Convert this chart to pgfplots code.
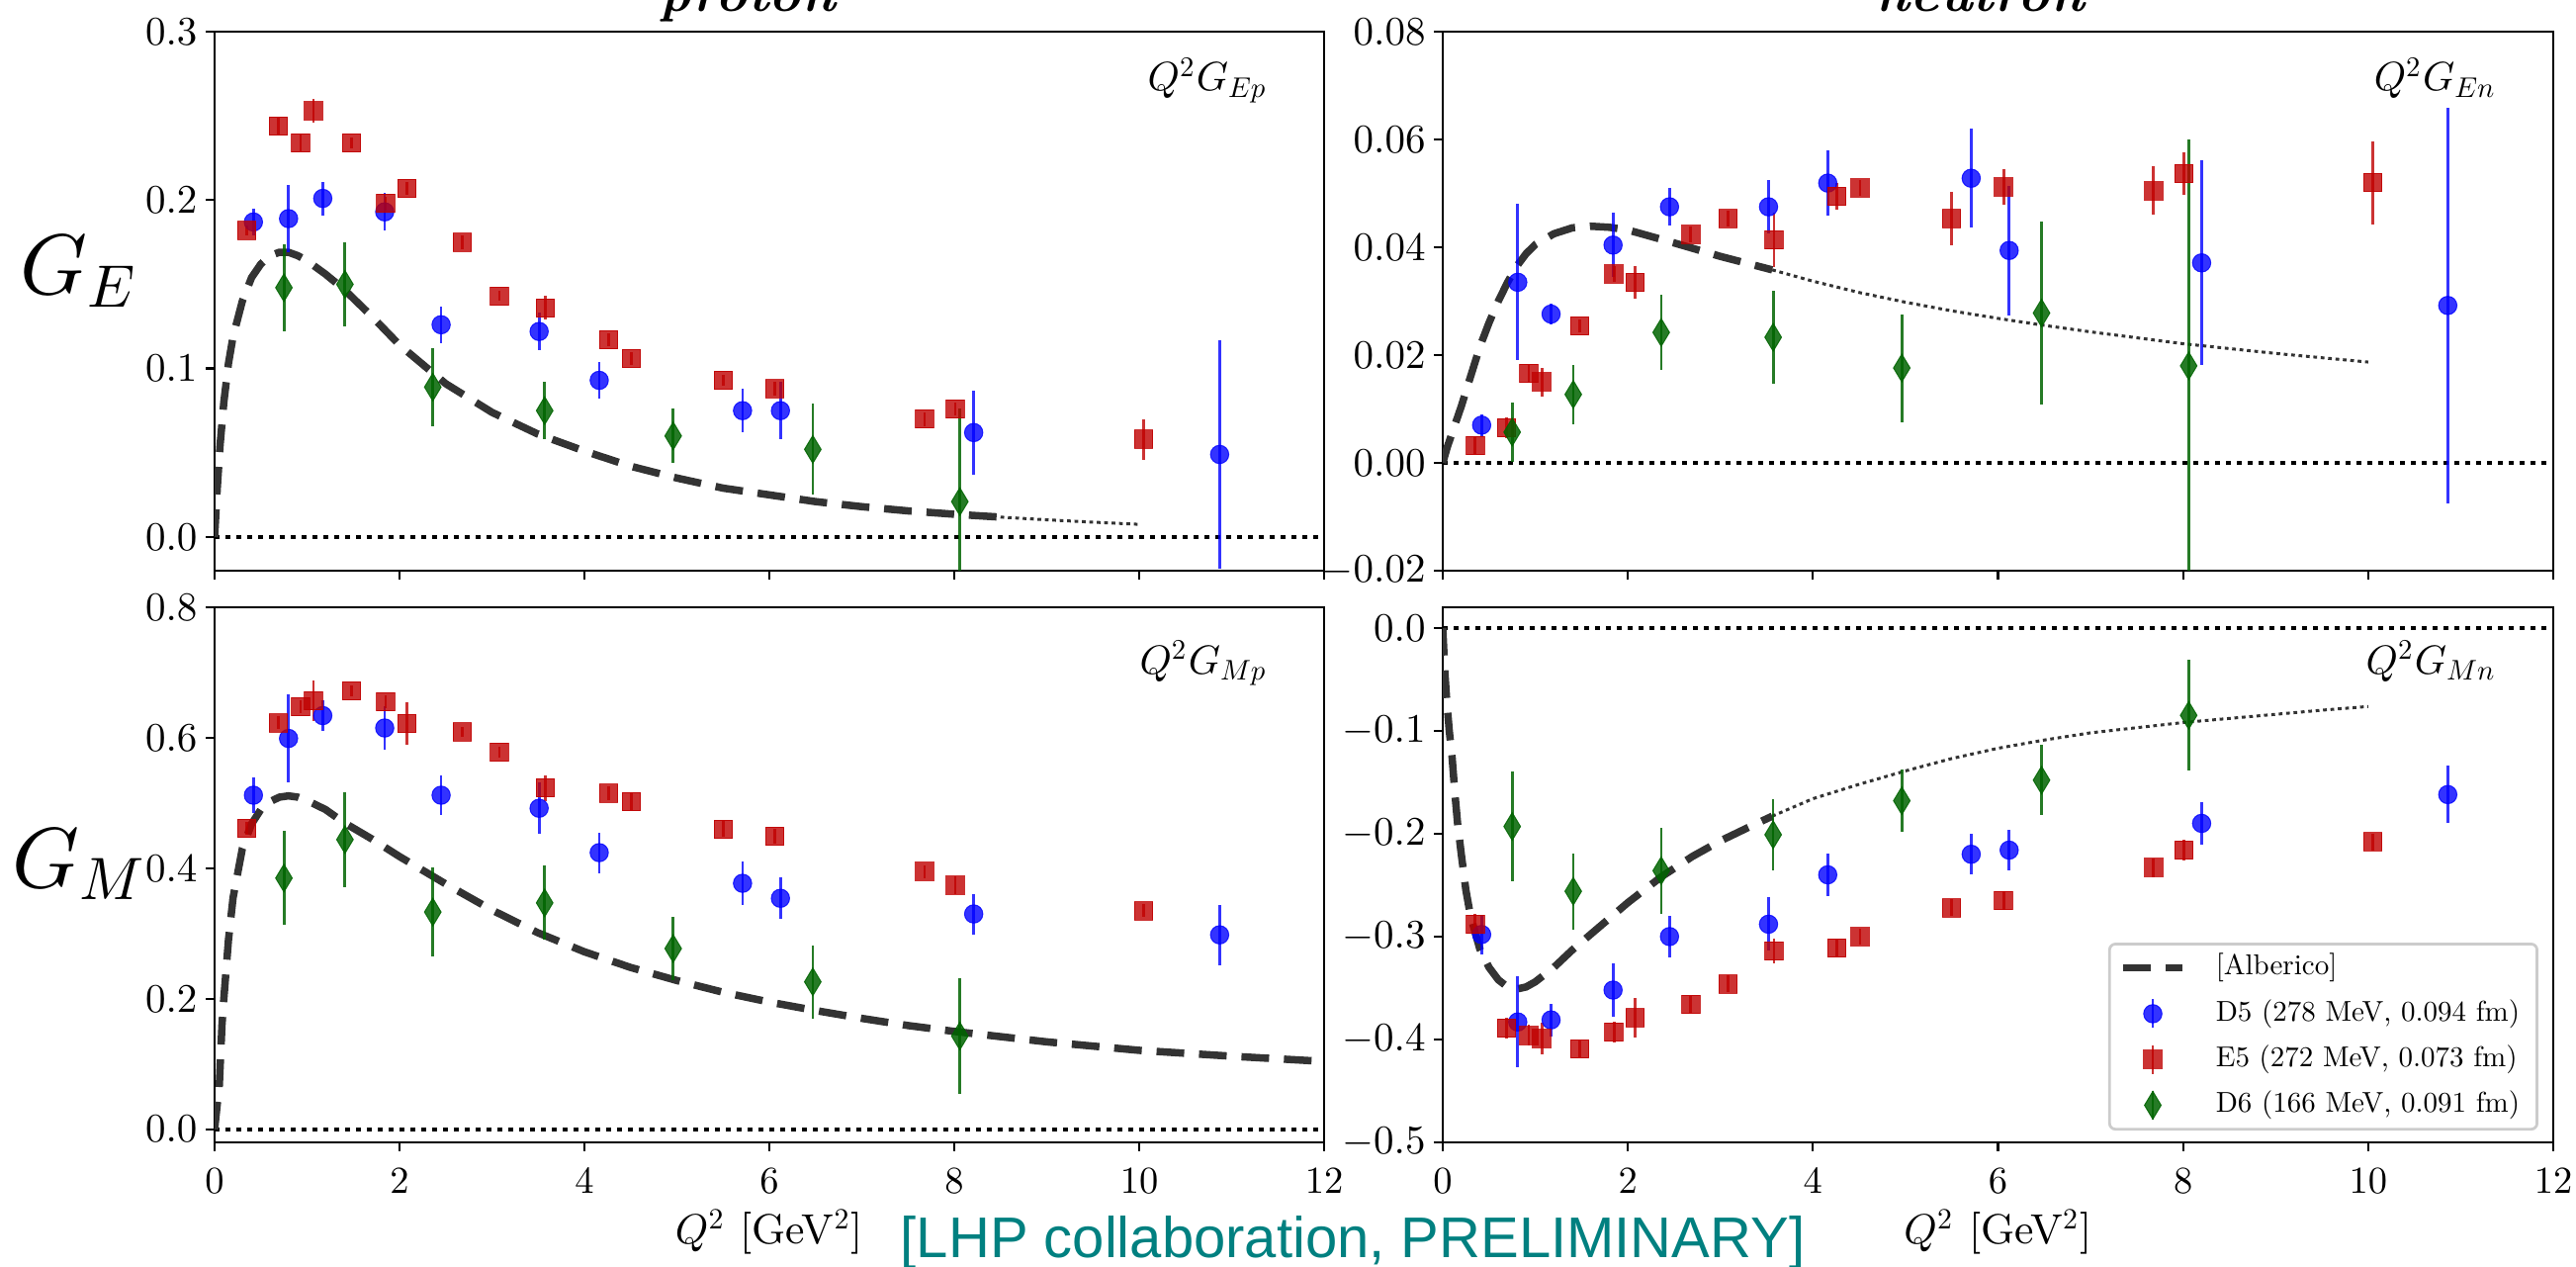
\RequirePackage{fix-cm}
\documentclass[border=0pt]{standalone}
\usepackage{fontspec}
\usepackage{pgfplots}
\pgfplotsset{compat=1.18}
\newfontfamily\lhpfont{Liberation Sans}
\newfontfamily\legendfont{lmroman10-regular.otf}
% one design size for the math fonts at every size
\DeclareFontShape{OT1}{cmr}{m}{n}{<->cmr10}{}
\DeclareFontShape{OML}{cmm}{m}{it}{<->cmmi10}{}
\DeclareFontShape{OMS}{cmsy}{m}{n}{<->cmsy10}{}

\definecolor{d5blue}{RGB}{0,0,255}
\definecolor{e5red}{RGB}{191,0,0}
\definecolor{d6green}{RGB}{0,100,0}
\definecolor{albgray}{RGB}{51,51,51}
\definecolor{lhpteal}{RGB}{0,128,128}

\pgfplotsset{
  panel/.style={
    scale only axis,
    xmin=0, xmax=12,
    xtick={0,2,4,6,8,10,12},
    tick align=outside,
    xtick pos=left, ytick pos=left,
    major tick length=1.8pt,
    axis line style={line width=0.45pt},
    tick style={black, line width=0.45pt},
    xticklabel style={font=\fontsize{7.7}{9}\selectfont},
    yticklabel style={font=\fontsize{8.2}{10}\selectfont, inner xsep=1.5pt},
    scaled y ticks=false,
  },
  prec1/.style={yticklabel style={/pgf/number format/.cd, fixed, fixed zerofill, precision=1}},
  prec2/.style={yticklabel style={/pgf/number format/.cd, fixed, fixed zerofill, precision=2}},
  qlabel/.style={xlabel={$Q^2$ [GeV$^2$]},
    xlabel style={at={(axis description cs:0.5,0)}, anchor=base, yshift=-20.6pt,
      font=\fontsize{8.5}{10}\selectfont}},
  zeroline/.style={black, line width=0.85pt, dash pattern=on 1pt off 1.2pt, forget plot},
  alb/.style={albgray, line width=1.5pt, dash pattern=on 5.6pt off 3pt},
  albtail/.style={albgray, line width=0.6pt, dash pattern=on 0.75pt off 0.75pt, forget plot},
  ebars/.style={
    error bars/y dir=both, error bars/y explicit, error bars/error mark=none,
    error bars/error bar style={line width=0.55pt, opacity=#1}},
  d5/.style={only marks, d5blue, mark=*, mark size=1.85pt,
    mark options={opacity=0.8, line width=0.2pt}, ebars=0.8},
  e5/.style={only marks, e5red, mark=square*, mark size=1.85pt,
    mark options={opacity=0.8, line width=0.2pt}, ebars=0.8},
  d6/.style={only marks, d6green, mark=diamond*, mark size=2.8pt,
    mark options={opacity=0.85, line width=0.2pt, xscale=0.8}, ebars=0.85},
  linelegend/.style={legend image code/.code={\draw[##1] (0pt,0pt) -- (12pt,0pt);}},
  marklegend/.style={legend image code/.code={
    \path[draw=none, fill=none] (0pt,-0.5pt) rectangle (12pt,0.5pt);
    \draw[#1, opacity=0.8, line width=0.55pt] (6pt,-2.9pt) -- (6pt,2.9pt);
    \draw[##1, only marks] plot coordinates {(6pt,0pt)};}},
}

\newcommand{\panelnote}[2]{\node[anchor=base east, inner sep=0pt, font=\fontsize{8.2}{10}\selectfont] at (rel axis cs:0.95,#1) {#2};}

\begin{document}
\begin{tikzpicture}

% ---------------- proton, electric ----------------
\begin{axis}[panel, prec1, at={(43.4pt,-6.4pt)}, anchor=north west,
  width=224.4pt, height=109pt,
  ymin=-0.02, ymax=0.3, ytick={0,0.1,0.2,0.3}, xticklabels={}]
\addplot[zeroline] coordinates {(0,0) (12,0)};
\addplot[alb] coordinates {
 (0,0) (0.03,0.030) (0.06,0.055) (0.1,0.080) (0.15,0.103) (0.2,0.119) (0.3,0.140)
 (0.4,0.154) (0.5,0.162) (0.6,0.167) (0.7,0.169) (0.8,0.169) (0.9,0.167) (1.0,0.164)
 (1.2,0.156) (1.4,0.147) (1.7,0.131) (2.0,0.114) (2.5,0.091) (3.0,0.074) (3.5,0.061)
 (4.0,0.051) (4.5,0.042) (5.0,0.035) (5.5,0.029) (6.0,0.025) (6.5,0.021) (7.0,0.018)
 (7.5,0.0155) (8.0,0.0135) (8.5,0.0118)};
\addplot[albtail] coordinates {(8.5,0.0118) (9.0,0.0102) (9.5,0.0088) (10.0,0.0075)};
\addplot[d5] table[x=x, y=y, y error=e] {
x y e
0.42 0.187 0.008
0.80 0.189 0.020
1.17 0.201 0.010
1.84 0.193 0.011
2.45 0.126 0.011
3.51 0.122 0.011
4.16 0.093 0.011
5.71 0.075 0.013
6.12 0.075 0.017
8.21 0.062 0.025
10.87 0.049 0.068
};
\addplot[e5] table[x=x, y=y, y error=e] {
x y e
0.35 0.182 0.003
0.69 0.244 0.005
0.93 0.234 0.005
1.07 0.253 0.007
1.48 0.234 0.003
1.85 0.198 0.004
2.08 0.207 0.004
2.68 0.175 0.004
3.08 0.143 0.003
3.58 0.136 0.007
4.26 0.117 0.004
4.51 0.106 0.004
5.50 0.093 0.003
6.06 0.088 0.004
7.68 0.070 0.004
8.01 0.076 0.004
10.05 0.058 0.012
};
\addplot[d6] table[x=x, y=y, y error=e] {
x y e
0.75 0.148 0.026
1.41 0.150 0.025
2.36 0.089 0.023
3.57 0.075 0.017
4.96 0.060 0.016
6.47 0.052 0.027
8.06 0.021 0.055
};
\panelnote{0.89}{$Q^2G_{Ep}$}
\end{axis}

% ---------------- neutron, electric ----------------
\begin{axis}[panel, prec2, at={(291.8pt,-6.4pt)}, anchor=north west,
  width=224.6pt, height=109pt,
  ymin=-0.02, ymax=0.08, ytick={-0.02,0,0.02,0.04,0.06,0.08}, xticklabels={}]
\addplot[zeroline] coordinates {(0,0) (12,0)};
\addplot[alb] coordinates {
 (0,0) (0.05,0.003) (0.1,0.0055) (0.2,0.0105) (0.3,0.016) (0.4,0.0215) (0.5,0.026)
 (0.6,0.030) (0.7,0.0335) (0.8,0.0365) (0.9,0.0388) (1.0,0.0405) (1.2,0.0425)
 (1.4,0.0436) (1.6,0.0439) (1.8,0.0437) (2.0,0.0432) (2.5,0.0408) (3.0,0.0383)
 (3.56,0.0358)};
\addplot[albtail] coordinates {
 (3.56,0.0358) (4.0,0.0337) (4.5,0.0316) (5.0,0.0298) (5.5,0.0282) (6.0,0.0268)
 (6.5,0.0255) (7.0,0.0243) (7.5,0.0232) (8.0,0.0221) (8.5,0.0212) (9.0,0.0203)
 (9.5,0.0195) (10.0,0.0187)};
\addplot[d5] table[x=x, y=y, y error=e] {
x y e
0.42 0.0070 0.0020
0.81 0.0335 0.0145
1.17 0.0276 0.0020
1.84 0.0404 0.0060
2.45 0.0475 0.0035
3.52 0.0475 0.0050
4.16 0.0519 0.0060
5.71 0.0528 0.0092
6.12 0.0394 0.0120
8.20 0.0371 0.0190
10.86 0.0292 0.0367
};
\addplot[e5] table[x=x, y=y, y error=e] {
x y e
0.35 0.0032 0.0015
0.69 0.0065 0.0020
0.93 0.0166 0.0015
1.07 0.0150 0.0027
1.48 0.0254 0.0012
1.85 0.0350 0.0015
2.08 0.0335 0.0030
2.68 0.0424 0.0015
3.08 0.0453 0.0015
3.58 0.0414 0.0050
4.26 0.0494 0.0025
4.51 0.0510 0.0015
5.50 0.0453 0.0050
6.06 0.0512 0.0033
7.68 0.0505 0.0045
8.01 0.0537 0.0040
10.05 0.0520 0.0077
};
\addplot[d6] table[x=x, y=y, y error=e] {
x y e
0.75 0.0057 0.0055
1.41 0.0127 0.0055
2.36 0.0242 0.0070
3.57 0.0233 0.0086
4.96 0.0176 0.0100
6.47 0.0278 0.0170
8.06 0.0180 0.0420
};
\panelnote{0.89}{$Q^2G_{En}$}
\end{axis}

% ---------------- proton, magnetic ----------------
\begin{axis}[panel, prec1, qlabel, at={(43.4pt,-122.8pt)}, anchor=north west,
  width=224.4pt, height=108.2pt,
  ymin=-0.02, ymax=0.8, ytick={0,0.2,0.4,0.6,0.8}]
\addplot[zeroline] coordinates {(0,0) (12,0)};
\addplot[alb] coordinates {
 (0,0) (0.03,0.040) (0.05,0.064) (0.08,0.16) (0.1,0.20) (0.15,0.29) (0.2,0.355)
 (0.3,0.43) (0.4,0.468) (0.5,0.49) (0.6,0.502) (0.7,0.509) (0.8,0.511) (0.9,0.509)
 (1.0,0.504) (1.2,0.490) (1.4,0.470) (1.7,0.445) (2.0,0.418) (2.5,0.376) (3.0,0.336)
 (3.5,0.301) (4.0,0.272) (4.5,0.248) (5.0,0.228) (5.5,0.210) (6.0,0.195) (6.5,0.182)
 (7.0,0.170) (7.5,0.159) (8.0,0.150) (9.0,0.134) (10.0,0.121) (11.0,0.112) (12.0,0.104)};
\addplot[d5] table[x=x, y=y, y error=e] {
x y e
0.42 0.512 0.027
0.80 0.599 0.067
1.17 0.634 0.023
1.84 0.615 0.034
2.45 0.512 0.030
3.51 0.492 0.039
4.16 0.424 0.031
5.71 0.377 0.033
6.12 0.354 0.032
8.21 0.330 0.031
10.87 0.298 0.046
};
\addplot[e5] table[x=x, y=y, y error=e] {
x y e
0.35 0.461 0.010
0.69 0.623 0.010
0.93 0.648 0.010
1.07 0.657 0.031
1.48 0.672 0.008
1.85 0.655 0.010
2.08 0.622 0.032
2.68 0.609 0.008
3.08 0.578 0.008
3.58 0.523 0.020
4.26 0.515 0.010
4.51 0.502 0.013
5.50 0.460 0.012
6.06 0.449 0.012
7.68 0.395 0.010
8.01 0.374 0.013
10.05 0.335 0.010
};
\addplot[d6] table[x=x, y=y, y error=e] {
x y e
0.75 0.385 0.072
1.41 0.444 0.073
2.36 0.333 0.068
3.57 0.347 0.057
4.96 0.277 0.049
6.47 0.226 0.056
8.06 0.143 0.089
};
\panelnote{0.875}{$Q^2G_{Mp}$}
\end{axis}

% ---------------- neutron, magnetic ----------------
\begin{axis}[panel, prec1, qlabel, at={(291.8pt,-122.8pt)}, anchor=north west,
  width=224.6pt, height=108.2pt,
  ymin=-0.5, ymax=0.02, ytick={-0.5,-0.4,-0.3,-0.2,-0.1,0},
  legend cell align=left,
  legend style={at={(0.9866,0.022)}, anchor=south east,
    draw=black!20, line width=0.55pt, rounded corners=1.2pt, fill=white,
    font=\legendfont\fontsize{5.8}{7}\selectfont,
    inner xsep=2.0pt, inner ysep=0.4pt, row sep=0.35pt,
    nodes={inner sep=1.5pt, text height=4.4pt, text depth=1.5pt},
    /tikz/every odd column/.append style={column sep=4.5pt}}]
\addplot[zeroline] coordinates {(0,0) (12,0)};
\addplot[alb, linelegend] coordinates {
 (0,0) (0.02,-0.04) (0.04,-0.067) (0.07,-0.10) (0.1,-0.125) (0.13,-0.16) (0.16,-0.19)
 (0.2,-0.22) (0.25,-0.255) (0.3,-0.28) (0.4,-0.312) (0.5,-0.33) (0.6,-0.342)
 (0.7,-0.349) (0.8,-0.351) (0.9,-0.349) (1.0,-0.344) (1.2,-0.330) (1.4,-0.313)
 (1.7,-0.290) (2.0,-0.267) (2.36,-0.242) (2.7,-0.222) (3.0,-0.207) (3.3,-0.194)
 (3.56,-0.183)};
\addlegendentry{[Alberico]}
\addplot[albtail] coordinates {
 (3.56,-0.183) (4.0,-0.166) (4.5,-0.152) (5.0,-0.139) (5.5,-0.127) (6.0,-0.117)
 (6.5,-0.109) (7.0,-0.102) (7.5,-0.097) (8.0,-0.092) (8.5,-0.088) (9.0,-0.084)
 (9.5,-0.080) (10.0,-0.0764)};
\addplot[d5, marklegend=d5blue] table[x=x, y=y, y error=e] {
x y e
0.42 -0.298 0.019
0.81 -0.383 0.044
1.17 -0.381 0.016
1.84 -0.352 0.026
2.45 -0.300 0.020
3.52 -0.288 0.026
4.16 -0.240 0.021
5.71 -0.220 0.020
6.12 -0.216 0.020
8.20 -0.190 0.021
10.86 -0.162 0.028
};
\addlegendentry{D5 (278 MeV, 0.094 fm)}
\addplot[e5, marklegend=e5red] table[x=x, y=y, y error=e] {
x y e
0.35 -0.288 0.010
0.69 -0.389 0.010
0.93 -0.396 0.010
1.07 -0.399 0.015
1.48 -0.409 0.008
1.85 -0.393 0.010
2.08 -0.379 0.019
2.68 -0.366 0.008
3.08 -0.346 0.008
3.58 -0.314 0.012
4.26 -0.311 0.008
4.51 -0.300 0.008
5.50 -0.272 0.008
6.06 -0.265 0.009
7.68 -0.233 0.009
8.01 -0.216 0.010
10.05 -0.208 0.008
};
\addlegendentry{E5 (272 MeV, 0.073 fm)}
\addplot[d6, marklegend=d6green] table[x=x, y=y, y error=e] {
x y e
0.75 -0.193 0.053
1.41 -0.256 0.037
2.36 -0.236 0.042
3.57 -0.201 0.035
4.96 -0.168 0.030
6.47 -0.148 0.034
8.06 -0.085 0.054
};
\addlegendentry{D6 (166 MeV, 0.091 fm)}
\panelnote{0.875}{$Q^2G_{Mn}$}
\end{axis}

% row labels and column titles
\node[anchor=base, font=\fontsize{17.3}{20}\selectfont] at (16pt,-59.6pt) {$G_E$};
\node[anchor=base, font=\fontsize{17.3}{20}\selectfont] at (16pt,-179.4pt) {$G_M$};
\node[anchor=base, font=\fontsize{11}{13}\selectfont\bfseries\itshape] at (151.2pt,-2.4pt) {proton};
\node[anchor=base, font=\fontsize{11}{13}\selectfont\bfseries\itshape] at (400.4pt,-2.4pt) {neutron};
\node[anchor=base, text=lhpteal, font=\lhpfont\fontsize{11.6}{13}\selectfont] at (273.6pt,-254.2pt) {[LHP collaboration, PRELIMINARY]};

\pgfresetboundingbox
\path[use as bounding box] (0pt,0pt) rectangle (521pt,-256.2pt);
\end{tikzpicture}
\end{document}
